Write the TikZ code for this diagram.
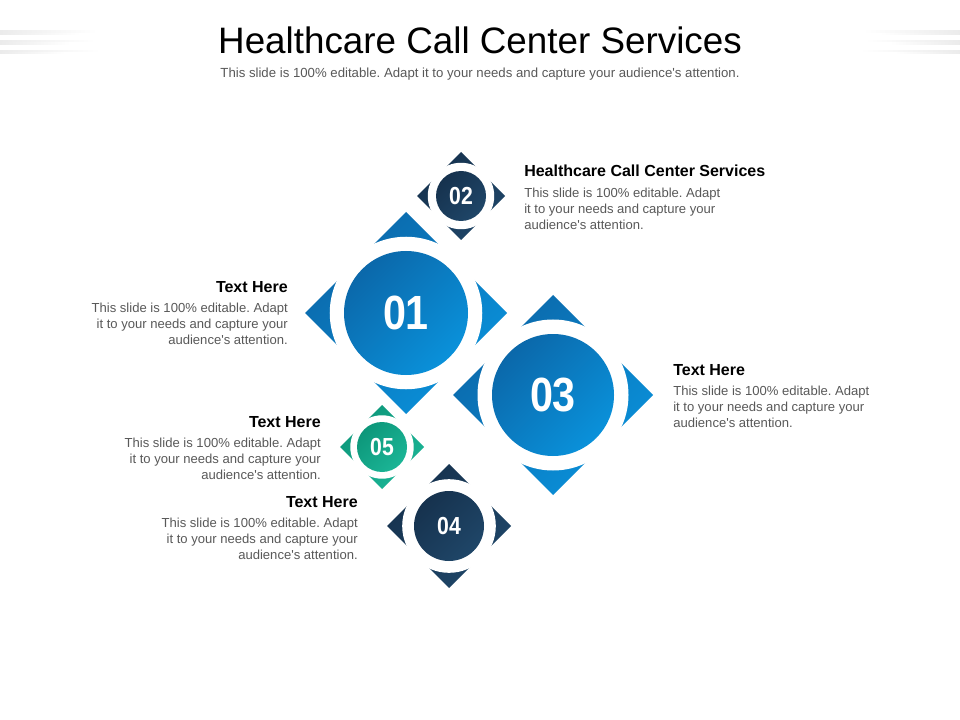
\documentclass[tikz,border=0pt]{standalone}
\usepackage{fontspec}
\setmainfont{Liberation Sans}
\usepackage{graphicx}
\usepackage{xcolor}
\usetikzlibrary{positioning}

\definecolor{blueDark}{HTML}{0B68AA}
\definecolor{blueLight}{HTML}{0A91DA}
\definecolor{navyDark}{HTML}{16324E}
\definecolor{navyLight}{HTML}{1F4668}
\definecolor{greenDark}{HTML}{0D977A}
\definecolor{greenLight}{HTML}{1BB596}
\definecolor{txtGray}{HTML}{595959}
\definecolor{lineGray}{HTML}{EBEBEB}

\tikzset{
  head/.style={inner sep=0pt, text=black, font=\fontsize{12}{14}\selectfont\bfseries},
  body/.style={inner sep=0pt, text=txtGray, font=\fontsize{9.8}{12}\selectfont},
  num/.style={inner sep=0pt, text=white},
}
\newcommand{\blurb}{This slide is 100\% editable. Adapt\\it to your needs and capture your\\audience\textquotesingle s attention.}

\begin{document}
\frenchspacing
\begin{tikzpicture}[x=0.75pt,y=-0.75pt]
\useasboundingbox (0,0) rectangle (960,720);
\fill[white] (0,0) rectangle (960,720);

% faint stripes at the top corners
\foreach \y/\len in {31/97, 33.5/80, 40.5/95, 42.8/70, 50.5/100, 52.5/65} {
  \shade[left color=lineGray, right color=white] (0,\y) rectangle (\len,\y+1.3);
  \shade[left color=white, right color=lineGray] (960-\len,\y) rectangle (960,\y+1.3);
}

% title
\node[inner sep=0pt, font=\fontsize{27.6}{30}\selectfont] (title) at (480,40) {Healthcare Call Center Services};
\node[inner sep=0pt, text=txtGray, font=\fontsize{9.9}{12}\selectfont, below=18pt of title.south, anchor=base] (subtitle)
  {This slide is 100\% editable. Adapt it to your needs and capture your audience\textquotesingle s attention.};

% badges: diamond, white ring, filled disc, number
\foreach \nm/\x/\y/\d/\r/\cl/\fs/\lbl in {
    one/406/313/101/62/blue/36/01,
    three/553/395/100/61/blue/36/03,
    two/461/196/44/25/navy/18.5/02,
    five/382/447/42/25/green/18.5/05,
    four/449/526/62/35/navy/18.5/04} {
  \shade[top color=\cl Dark, bottom color=\cl Light, shading angle=45]
    (\x,\y) +(0,-\d) -- +(\d,0) -- +(0,\d) -- +(-\d,0) -- cycle;
  \fill[white] (\x,\y) circle ({0.755*\d});
  \shade[top color=\cl Dark, bottom color=\cl Light, shading angle=45] (\x,\y) circle (\r);
  \node[num, font=\fontsize{\fs}{\fs}\selectfont\bfseries] (\nm) at (\x,\y) {\scalebox{0.86}[1]{\lbl}};
}

% text blocks
\node[head, anchor=base west] (headTwo) at (524,177) {Healthcare Call Center Services};
\node[body, align=left, below=8pt of headTwo.south west, anchor=north west] (bodyTwo) {\blurb};

\node[head, anchor=base east] (headOne) at (288,292) {Text Here};
\node[body, align=right, below=8pt of headOne.south east, anchor=north east] (bodyOne) {\blurb};

\node[head, anchor=base west] (headThree) at (673,375) {Text Here};
\node[body, align=left, below=8pt of headThree.south west, anchor=north west] (bodyThree) {\blurb};

\node[head, anchor=base east] (headFive) at (321,427) {Text Here};
\node[body, align=right, below=8pt of headFive.south east, anchor=north east] (bodyFive) {\blurb};

\node[head, anchor=base east] (headFour) at (358,507) {Text Here};
\node[body, align=right, below=8pt of headFour.south east, anchor=north east] (bodyFour) {\blurb};
\end{tikzpicture}
\end{document}
